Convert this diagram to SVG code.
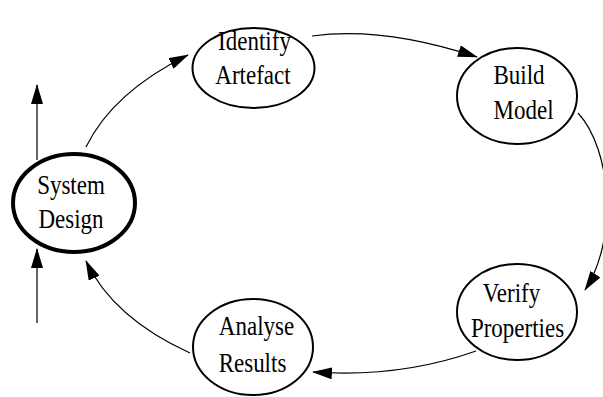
<svg xmlns="http://www.w3.org/2000/svg" width="603" height="397" viewBox="0 0 603 397">
<style>
.node{fill:#fff;stroke:#000;stroke-width:2}
.bold{stroke-width:4}
.lbl{font-family:"Liberation Serif","Times New Roman",serif;font-size:23px;fill:#000;text-anchor:middle}
.edge{fill:none;stroke:#000;stroke-width:1.2}
.vert{fill:none;stroke:#333;stroke-width:1.5}
</style>
<defs>
<marker id="ah" markerUnits="userSpaceOnUse" viewBox="0 0 20 12" refX="19" refY="6" markerWidth="20" markerHeight="12" orient="auto">
<path d="M0,0 L20,6 L0,12 Z" fill="#000"/>
</marker>
</defs>
<rect width="603" height="397" fill="#fff"/>
<g id="connectors">
<path class="edge" d="M86,147 Q113,92 188,55" marker-end="url(#ah)"/>
<path class="edge" d="M312,36 Q383,26 477,57" marker-end="url(#ah)"/>
<path class="edge" d="M578,113 C612,150 618,240 585,290" marker-end="url(#ah)"/>
<path class="edge" d="M476,351 Q400,378 313,372" marker-end="url(#ah)"/>
<path class="edge" d="M190,353 Q113,318 86,261" marker-end="url(#ah)"/>
<path class="vert" d="M37,160 L37,85" marker-end="url(#ah)"/>
<path class="vert" d="M37,323 L37,249" marker-end="url(#ah)"/>
</g>
<g id="system-design">
<ellipse class="node bold" cx="74" cy="203" rx="61" ry="49"/>
<text class="lbl" transform="translate(71,194) scale(1,1.2)">System</text>
<text class="lbl" transform="translate(71,228) scale(1,1.2)">Design</text>
</g>
<g id="identify-artefact">
<ellipse class="node" cx="253.5" cy="68" rx="61" ry="40"/>
<text class="lbl" transform="translate(254.5,50) scale(1,1.2)">Identify</text>
<text class="lbl" transform="translate(253,84) scale(1,1.2)">Artefact</text>
</g>
<g id="build-model">
<ellipse class="node" cx="517" cy="96" rx="60" ry="48"/>
<text class="lbl" transform="translate(519,84) scale(1,1.2)">Build</text>
<text class="lbl" transform="translate(523.5,119) scale(1,1.2)">Model</text>
</g>
<g id="verify-properties">
<ellipse class="node" cx="517" cy="312" rx="60" ry="48"/>
<text class="lbl" transform="translate(511.5,302) scale(1,1.2)">Verify</text>
<text class="lbl" transform="translate(517.5,336.5) scale(1,1.2)">Properties</text>
</g>
<g id="analyse-results">
<ellipse class="node" cx="253" cy="347" rx="60" ry="48"/>
<text class="lbl" transform="translate(256.5,335) scale(1,1.2)">Analyse</text>
<text class="lbl" transform="translate(252.5,372) scale(1,1.2)">Results</text>
</g>
</svg>
